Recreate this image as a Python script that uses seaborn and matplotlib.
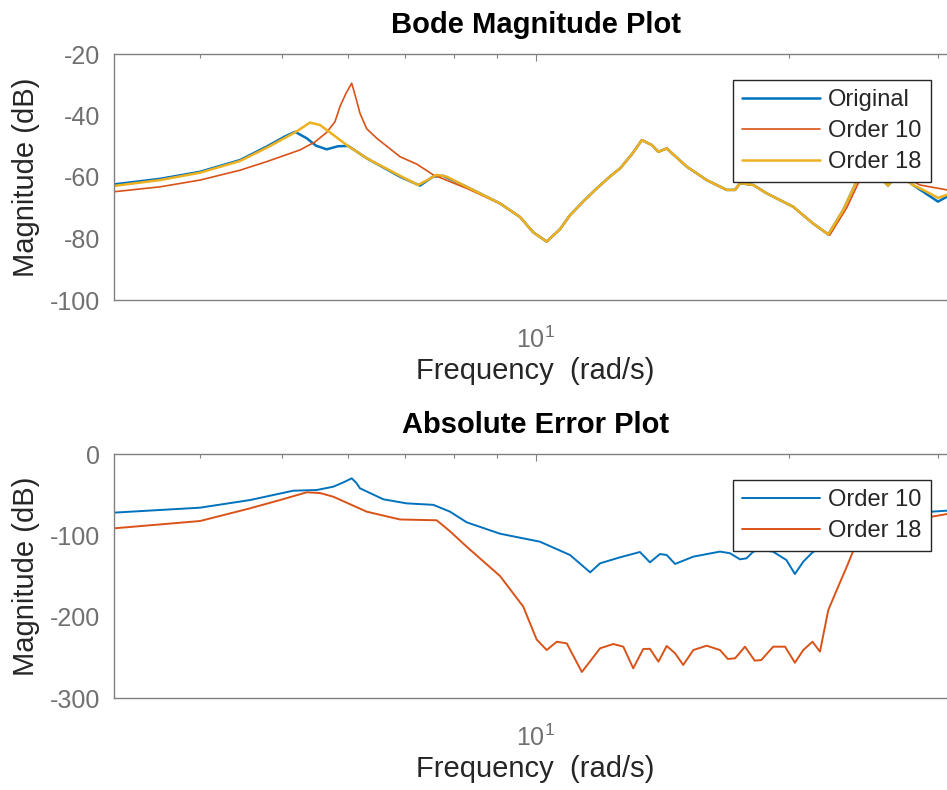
import numpy as np
import pandas as pd
import matplotlib
matplotlib.use("Agg")
import matplotlib.pyplot as plt
import matplotlib.ticker as mticker
import seaborn as sns

# Bode magnitude (dB), frequency in rad/s
orig_w = [3.162, 3.586, 4.000, 4.461, 4.799, 5.045, 5.185, 5.353, 5.490, 5.653, 5.831, 5.997,
          6.306, 6.907, 7.294, 7.558, 7.768, 8.287, 9.076, 9.585, 9.940, 10.31, 10.69, 10.99,
          11.39, 11.82, 12.26, 12.60, 13.02, 13.37, 13.74, 13.99, 14.31, 15.11, 15.96, 16.86,
          17.25, 17.48, 18.13, 18.80, 20.22, 21.34, 22.25, 23.18, 24.03, 24.80, 25.62, 26.19,
          26.91, 28.04, 30.02, 30.77, 31.62]
orig_db = [-62.4, -60.6, -58.3, -54.5, -50.1, -46.8, -45.3, -47.4, -49.8, -51.0, -50.0, -49.9,
           -53.9, -59.9, -62.8, -59.9, -59.6, -63.2, -68.6, -73.0, -78.0, -81.0, -77.0, -72.4,
           -68.0, -63.7, -59.8, -57.2, -52.5, -48.0, -49.6, -51.8, -50.7, -56.6, -61.0, -64.2,
           -64.2, -62.0, -62.6, -65.3, -69.7, -75.1, -78.7, -70.7, -61.5, -56.0, -60.0, -62.8,
           -59.0, -62.6, -68.0, -66.4, -64.0]

o10_w = [3.162, 3.586, 4.000, 4.461, 4.799, 5.256, 5.475, 5.653, 5.783, 5.862, 5.959, 6.053,
         6.124, 6.192, 6.306, 6.481, 6.907, 7.229, 7.564, 7.917, 8.287, 9.076, 9.585, 9.940,
         10.31, 10.69, 10.99, 11.39, 11.82, 12.26, 12.60, 13.02, 13.37, 13.74, 13.99, 14.31,
         15.11, 15.96, 16.86, 17.25, 17.48, 18.13, 18.80, 20.22, 21.34, 22.34, 23.40, 24.20,
         24.80, 25.62, 26.19, 26.91, 28.58, 29.80, 30.77, 31.62]
o10_db = [-64.8, -63.2, -61.0, -57.8, -55.0, -51.2, -48.6, -45.5, -42.0, -37.1, -32.8, -29.5,
          -34.4, -39.3, -44.3, -47.4, -53.4, -55.8, -59.3, -61.5, -63.7, -68.6, -73.0, -78.0,
          -81.0, -77.0, -72.4, -68.0, -63.7, -59.8, -57.2, -52.5, -48.0, -49.6, -51.8, -50.7,
          -56.6, -61.0, -64.2, -64.2, -62.0, -62.6, -65.3, -69.7, -75.1, -78.9, -70.0, -61.5,
          -56.0, -60.0, -62.8, -59.0, -62.6, -63.5, -64.2, -64.5]

o18_w = [3.162, 3.586, 4.000, 4.461, 4.799, 5.185, 5.401, 5.551, 5.756, 5.971, 6.306, 6.907,
         7.258, 7.635, 7.846, 8.287, 9.076, 9.585, 9.940, 10.31, 10.69, 10.99, 11.39, 11.82,
         12.26, 12.60, 13.02, 13.37, 13.74, 13.99, 14.31, 15.11, 15.96, 16.86, 17.25, 17.48,
         18.13, 18.80, 20.22, 21.34, 22.25, 23.18, 24.03, 24.80, 25.62, 26.19, 26.91, 28.04,
         28.98, 30.02, 30.77, 31.62]
o18_db = [-62.9, -61.0, -58.6, -54.8, -50.5, -45.5, -42.3, -43.1, -46.3, -49.6, -53.9, -59.6,
          -62.6, -59.3, -59.9, -63.2, -68.6, -73.0, -78.0, -81.0, -77.0, -72.4, -68.0, -63.7,
          -59.8, -57.2, -52.5, -48.0, -49.6, -51.8, -50.7, -56.6, -61.0, -64.2, -64.2, -62.0,
          -62.6, -65.3, -69.7, -75.1, -78.7, -70.7, -61.5, -56.0, -60.0, -62.8, -59.0, -62.6,
          -64.5, -66.8, -65.8, -65.0]

# Absolute error (dB)
err10_w = [3.162, 4.000, 4.585, 5.161, 5.501, 5.756, 5.943, 6.053, 6.124, 6.192, 6.599, 7.034,
           7.564, 7.917, 8.287, 9.076, 10.12, 10.99, 11.61, 11.93, 12.60, 13.30, 13.67, 14.05,
           14.31, 14.64, 15.39, 16.55, 17.01, 17.48, 17.79, 18.13, 18.46, 19.13, 19.84, 20.31,
           20.78, 21.26, 22.34, 23.61, 25.62, 27.81, 29.51, 30.77, 31.62]
err10_db = [-72.1, -66.0, -56.6, -45.1, -44.3, -40.2, -34.0, -29.9, -35.0, -42.2, -55.7, -60.7,
            -62.5, -70.9, -84.0, -98.0, -107.8, -124.2, -145.5, -134.4, -127.0, -120.5, -133.2, -123.0,
            -124.2, -135.2, -126.2, -120.0, -122.0, -129.5, -128.3, -120.0, -118.0, -120.0, -130.3, -147.5,
            -132.4, -122.0, -105.0, -90.0, -78.0, -73.0, -70.9, -69.7, -70.0]

err18_w = [3.162, 4.000, 4.585, 4.977, 5.353, 5.551, 5.756, 6.306, 6.907, 7.635, 7.917, 8.287,
           9.076, 9.672, 10.03, 10.31, 10.60, 10.89, 11.35, 11.93, 12.37, 12.71, 13.06, 13.42,
           13.67, 13.99, 14.31, 14.64, 14.97, 15.39, 15.96, 16.55, 16.91, 17.25, 17.72, 18.20,
           18.53, 19.14, 19.77, 20.31, 20.78, 21.31, 21.75, 22.25, 22.77, 23.40, 23.93, 24.90,
           26.33, 27.81, 29.51, 30.77, 31.62]
err18_db = [-91.4, -82.4, -66.8, -56.6, -47.1, -48.0, -52.5, -70.9, -80.5, -81.5, -95.0, -114.0,
            -150.0, -187.7, -228.0, -241.0, -230.8, -232.8, -268.0, -238.9, -233.6, -236.9, -263.5, -239.8,
            -239.5, -255.3, -236.0, -245.0, -259.4, -241.0, -235.7, -241.0, -252.0, -251.2, -236.9, -254.1,
            -253.3, -236.9, -236.9, -256.6, -241.0, -230.8, -243.0, -191.8, -167.2, -138.6, -114.0, -95.0,
            -85.0, -80.0, -77.1, -73.8, -73.0]

c_blue = "#0072BD"
c_red = "#D95319"
c_yellow = "#EDB120"

sns.set_style("white")
plt.rcParams['font.family'] = ['Liberation Sans', 'DejaVu Sans']
plt.rcParams['mathtext.fontset'] = 'custom'
plt.rcParams['mathtext.rm'] = 'Liberation Sans'
plt.rcParams['axes.unicode_minus'] = False
plt.rcParams['axes.edgecolor'] = '#808080'
plt.rcParams['axes.linewidth'] = 1.0

fig = plt.figure(figsize=(9.47, 7.90), dpi=100)
W, H = 947, 790
ax1 = fig.add_axes([114 / W, 1 - 300 / H, 843 / W, 246 / H])
ax2 = fig.add_axes([114 / W, 1 - 698 / H, 843 / W, 244 / H])

sns.lineplot(x=orig_w, y=orig_db, ax=ax1, color=c_blue, linewidth=1.8, label="Original",
             estimator=None, sort=False)
sns.lineplot(x=o10_w, y=o10_db, ax=ax1, color=c_red, linewidth=1.2, label="Order 10",
             estimator=None, sort=False)
sns.lineplot(x=o18_w, y=o18_db, ax=ax1, color=c_yellow, linewidth=1.8, label="Order 18",
             estimator=None, sort=False)

sns.lineplot(x=err10_w, y=err10_db, ax=ax2, color=c_blue, linewidth=1.4, label="Order 10",
             estimator=None, sort=False)
sns.lineplot(x=err18_w, y=err18_db, ax=ax2, color=c_red, linewidth=1.4, label="Order 18",
             estimator=None, sort=False)

setup = [
    (ax1, "Bode Magnitude Plot", (-100, -20), np.arange(-100, -19, 20), 1 - (80 - 54) / 246),
    (ax2, "Absolute Error Plot", (-300, 0), np.arange(-300, 1, 100), 1 - (480 - 454) / 244),
]
for ax, title, ylim, yt, leg_top in setup:
    ax.set_xscale('log')
    ax.set_xlim(10 ** 0.5, 10 ** 1.5)
    ax.set_ylim(*ylim)
    ax.set_yticks(yt)
    ax.xaxis.set_major_locator(mticker.LogLocator(base=10))
    ax.xaxis.set_minor_locator(mticker.LogLocator(base=10, subs=np.arange(2, 10)))
    ax.xaxis.set_minor_formatter(mticker.NullFormatter())
    ax.tick_params(which='both', direction='in', top=True, right=True,
                   color='#808080', width=0.8, labelcolor='#707070')
    ax.tick_params(which='major', length=5, labelsize=18)
    ax.tick_params(which='minor', length=3)
    ax.tick_params(axis='x', which='major', pad=19)
    ax.tick_params(axis='y', which='major', pad=10)
    ax.set_title(title, fontsize=21, fontweight='bold', color='black', pad=15)
    ax.set_xlabel("Frequency  (rad/s)", fontsize=21, color='#262626', labelpad=3)
    ax.set_ylabel("Magnitude (dB)", fontsize=21, color='#262626', labelpad=7)
    ax.grid(False)
    leg = ax.legend(loc='upper left', bbox_to_anchor=((733 - 114) / 843, leg_top),
                    borderaxespad=0, frameon=True, fancybox=False, edgecolor='#262626',
                    framealpha=1, fontsize=17, handlelength=3.3, handletextpad=0.35,
                    borderpad=0.38, labelspacing=0.38)
    leg.get_frame().set_linewidth(1.0)
    for t in leg.get_texts():
        t.set_color('#262626')

fig.savefig("out.png", dpi=100)
